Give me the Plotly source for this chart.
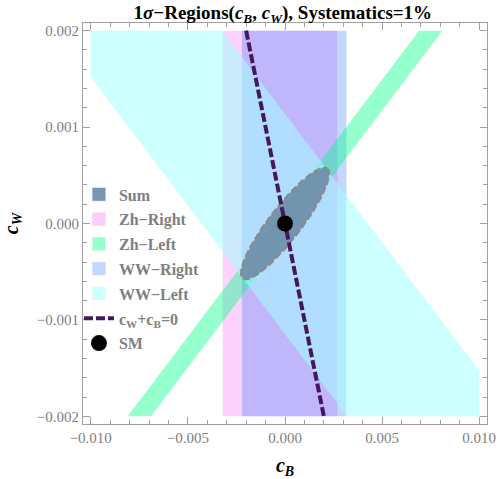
import numpy as np
import plotly.graph_objects as go

# region outlines in the (c_B, c_W) plane
ww_left_cb = [-0.010, -0.010, 0.00319, 0.010, 0.010, -0.00323]
ww_left_cw = [0.002, 0.00152, -0.002, -0.002, -0.00153, 0.002]

ww_right_cb = [-0.00222, 0.00316, 0.00316, -0.00222]
ww_right_cw = [-0.002, -0.002, 0.002, 0.002]

zh_right_cb = [-0.00321, 0.00269, 0.00269, -0.00321]
zh_right_cw = [-0.002, -0.002, 0.002, 0.002]

zh_left_cb = [-0.0081, -0.0069, 0.0081, 0.0069]
zh_left_cw = [-0.002, -0.002, 0.002, 0.002]

# combined 1-sigma ellipse: centre and the two semi-axis vectors
sum_center = (0.0, 0.0)
sum_major = (0.00217, 0.00057)
sum_minor = (0.00066, -0.0001)

line_cb = [-0.002, 0.002]
line_cw = [0.002, -0.002]

sm_cb = [0.0]
sm_cw = [0.0]

x_ticks = [-0.010, -0.005, 0.0, 0.005, 0.010]
y_ticks = [-0.002, -0.001, 0.0, 0.001, 0.002]

SERIF = "Liberation Serif"
GREY = "#808080"
FRAME = "#a0a0a0"

t = np.linspace(0, 2 * np.pi, 200)
ell_cb = sum_center[0] + sum_major[0] * np.cos(t) + sum_minor[0] * np.sin(t)
ell_cw = sum_center[1] + sum_major[1] * np.cos(t) + sum_minor[1] * np.sin(t)


def region(cb, cw, color):
    return go.Scatter(
        x=cb, y=cw, fill="toself", fillcolor=color, mode="lines",
        line=dict(width=0, color=color), showlegend=False, hoverinfo="skip",
    )


def swatch(name, color, rank):
    # legend-only square, like the Mathematica legend boxes
    return go.Scatter(
        x=[None], y=[None], name=name, mode="markers",
        marker=dict(symbol="square", size=14, color=color,
                    line=dict(color="rgba(255,255,255,0.8)", width=1)),
        legendrank=rank, legendgroup=name,
    )


fig = go.Figure()
fig.add_trace(region(zh_right_cb, zh_right_cw, "rgba(235,55,235,0.22)"))
fig.add_trace(region(ww_right_cb, ww_right_cw, "rgba(15,95,255,0.25)"))
fig.add_trace(region(zh_left_cb, zh_left_cw, "rgba(0,255,135,0.41)"))
fig.add_trace(region(ww_left_cb, ww_left_cw, "rgba(164,255,255,0.55)"))
fig.add_trace(go.Scatter(
    x=ell_cb, y=ell_cw, fill="toself", fillcolor="rgba(110,140,168,0.9)",
    mode="lines", line=dict(color="rgb(138,138,138)", width=2.2, dash="7px,3px"),
    showlegend=False, hoverinfo="skip",
))
fig.add_trace(go.Scatter(
    x=line_cb, y=line_cw, name="c<sub>W</sub>+c<sub>B</sub>=0", mode="lines",
    line=dict(color="#44175f", width=4, dash="9px,3px"),
    legendrank=6, legendgroup="line",
))
fig.add_trace(go.Scatter(
    x=sm_cb, y=sm_cw, name="SM", mode="markers",
    marker=dict(color="black", size=16),
    legendrank=7, legendgroup="SM",
))

fig.add_trace(swatch("Sum", "rgb(120,150,180)", 1))
fig.add_trace(swatch("Zh−Right", "rgb(250,205,250)", 2))
fig.add_trace(swatch("Zh−Left", "rgb(150,255,205)", 3))
fig.add_trace(swatch("WW−Right", "rgb(195,215,255)", 4))
fig.add_trace(swatch("WW−Left", "rgb(205,255,255)", 5))

axis_common = dict(
    showline=True, linecolor=FRAME, linewidth=1, mirror="allticks",
    ticks="inside", ticklen=7, tickcolor=FRAME, showgrid=False, zeroline=False,
    tickfont=dict(family=SERIF, size=15, color=GREY), tickformat=".3f",
    automargin=False,
)

fig.update_xaxes(
    range=[-0.0104, 0.0104], tickvals=x_ticks,
    minor=dict(dtick=0.001, ticks="inside", ticklen=4, tickcolor=FRAME, showgrid=False),
    title=dict(text="<b><i>c<sub>B</sub></i></b>", font=dict(family=SERIF, size=20, color="black"), standoff=12),
    **axis_common,
)
fig.update_yaxes(
    range=[-0.00208, 0.00208], tickvals=y_ticks,
    minor=dict(dtick=0.0002, ticks="inside", ticklen=4, tickcolor=FRAME, showgrid=False),
    title=dict(text="<b><i>c<sub>W</sub></i></b>", font=dict(family=SERIF, size=20, color="black"), standoff=18),
    **axis_common,
)

fig.update_layout(
    width=498, height=479,
    margin=dict(l=83, r=11, t=23, b=55),
    plot_bgcolor="white", paper_bgcolor="white",
    title=dict(
        text="<b>1<i>σ</i>−Regions(<i>c<sub>B</sub></i>, <i>c<sub>W</sub></i>), Systematics=1%</b>",
        font=dict(family=SERIF, size=19, color="black"),
        x=0.568, xanchor="center", y=0.975, yanchor="middle",
    ),
    legend=dict(
        x=-0.01, y=0.615, xanchor="left", yanchor="top",
        bgcolor="rgba(0,0,0,0)", tracegroupgap=1, itemwidth=30,
        font=dict(family=SERIF, size=16, color=GREY, weight="bold"),
    ),
)

# drop the browser's default 8px body margin so the figure sits at the window origin
fig.write_html(
    "out.html",
    config={"displayModeBar": False},
    post_script="document.body.style.margin = '0px';",
)
